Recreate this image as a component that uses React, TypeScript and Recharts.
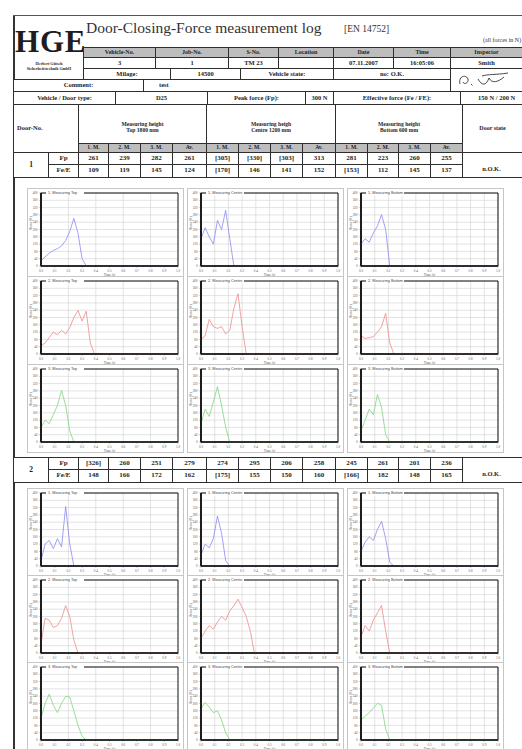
import React from 'react';
import { LineChart, Line, XAxis, YAxis, CartesianGrid, ReferenceArea } from 'recharts';

// ---------- data ----------
const times = [0, 0.03, 0.06, 0.09, 0.12, 0.15, 0.18, 0.21, 0.24, 0.27, 0.3, 0.33, 0.36, 0.39, 0.42, 1.0];
const xTicks = [0, 0.1, 0.2, 0.3, 0.4, 0.5, 0.6, 0.7, 0.8, 0.9, 1.0];
const yTicks = [0, 40, 80, 120, 160, 200, 240, 280, 320, 360, 400];

// door 1
const d1TopM1 = [30, 50, 70, 85, 95, 110, 140, 190, 261, 180, 40, 0, 0, 0, 0, 0];
const d1TopM2 = [45, 60, 90, 120, 105, 130, 110, 145, 200, 239, 180, 235, 60, 0, 0, 0];
const d1TopM3 = [80, 120, 100, 150, 200, 282, 200, 60, 0, 0, 0, 0, 0, 0, 0, 0];
const d1CenM1 = [150, 210, 160, 120, 250, 200, 305, 150, 0, 0, 0, 0, 0, 0, 0, 0];
const d1CenM2 = [80, 100, 190, 150, 140, 150, 110, 130, 250, 330, 150, 0, 0, 0, 0, 0];
const d1CenM3 = [100, 180, 140, 220, 303, 200, 80, 0, 0, 0, 0, 0, 0, 0, 0, 0];
const d1BotM1 = [120, 150, 130, 180, 220, 281, 200, 0, 0, 0, 0, 0, 0, 0, 0, 0];
const d1BotM2 = [100, 85, 90, 95, 120, 150, 223, 60, 0, 0, 0, 0, 0, 0, 0, 0];
const d1BotM3 = [60, 120, 180, 150, 260, 190, 40, 0, 0, 0, 0, 0, 0, 0, 0, 0];
// door 2
const d2TopM1 = [30, 120, 140, 95, 150, 105, 326, 120, 0, 0, 0, 0, 0, 0, 0, 0];
const d2TopM2 = [50, 190, 180, 140, 150, 190, 260, 200, 70, 0, 0, 0, 0, 0, 0, 0];
const d2TopM3 = [120, 200, 251, 190, 150, 200, 240, 235, 160, 80, 20, 0, 0, 0, 0, 0];
const d2CenM1 = [60, 120, 100, 150, 274, 180, 30, 0, 0, 0, 0, 0, 0, 0, 0, 0];
const d2CenM2 = [80, 120, 150, 130, 170, 200, 180, 230, 260, 295, 250, 200, 120, 0, 0, 0];
const d2CenM3 = [170, 206, 180, 150, 160, 110, 40, 0, 0, 0, 0, 0, 0, 0, 0, 0];
const d2BotM1 = [80, 130, 160, 140, 200, 245, 150, 20, 0, 0, 0, 0, 0, 0, 0, 0];
const d2BotM2 = [90, 150, 120, 180, 220, 261, 120, 0, 0, 0, 0, 0, 0, 0, 0, 0];
const d2BotM3 = [110, 130, 150, 175, 201, 190, 60, 0, 0, 0, 0, 0, 0, 0, 0, 0];

const row1Fp = ['261', '239', '282', '261', '[305]', '[330]', '[303]', '313', '281', '223', '260', '255'];
const row1Fe = ['109', '119', '145', '124', '[170]', '146', '141', '152', '[153]', '112', '145', '137'];
const row2Fp = ['[326]', '260', '251', '279', '274', '295', '206', '258', '245', '261', '201', '236'];
const row2Fe = ['148', '166', '172', '162', '[175]', '155', '150', '160', '[166]', '182', '148', '165'];

const subHeads = ['1. M.', '2. M.', '3. M.', 'Av.', '1. M.', '2. M.', '3. M.', 'Av.', '1. M.', '2. M.', '3. M.', 'Av.'];
const positions = ['Top', 'Centre', 'Bottom'];
const seriesColors = ['#8a8af2', '#f08a8a', '#7fd67f'];

// ---------- layout ----------
const valueCols = [78, 108, 140, 172, 206, 238, 270, 302, 335, 367, 398, 430, 462];
const panelCols = [27, 187, 347];
const block1Tops = [188, 276, 364];
const block2Tops = [488, 575, 662];

const BORDER = '1px solid #2e2e2e';

function Cell({ x1, x2, y1, y2, text, bg, size = 6.5, align = 'center', pad = 0, weight = 700, children, valign = 'center' }: any) {
  return (
    <div
      style={{
        position: 'absolute', left: x1, top: y1, width: x2 - x1 + 1, height: y2 - y1 + 1,
        border: BORDER, boxSizing: 'border-box', background: bg || '#fff',
        display: 'flex', alignItems: valign, justifyContent: align === 'left' ? 'flex-start' : 'center',
        paddingLeft: pad, fontSize: size, fontWeight: weight, whiteSpace: 'nowrap', overflow: 'hidden',
        lineHeight: 1.05, textAlign: 'center',
      }}
    >
      {children || text}
    </div>
  );
}

function PlotTitle(props: any) {
  const vb = props.viewBox || { x: 0, y: 0 };
  return (
    <g>
      <rect x={vb.x + 5} y={vb.y - 2.5} width={38} height={5} fill="#fff" />
      <text x={vb.x + 7} y={vb.y + 1.3} fontSize={3.8} fill="#444" fontFamily="Liberation Sans, sans-serif">{props.text}</text>
    </g>
  );
}

function Panel({ left, top, values, color, title, sparse }: any) {
  const data = times.map((t, i) => ({ t, v: values[i] }));
  return (
    <div style={{ position: 'absolute', left, top, width: 157, height: 89, border: '1px solid #c6c6c6', boxSizing: 'border-box', background: '#fff' }}>
      <LineChart width={155} height={87} data={data} margin={{ top: 4, right: 5, bottom: 0, left: 3 }}>
        <CartesianGrid stroke="#d0d0d0" strokeWidth={0.6} verticalValues={sparse ? [0.2, 0.4, 0.6, 0.8] : undefined} />
        <XAxis
          type="number" dataKey="t" domain={[0, 1]} ticks={xTicks} interval={0} height={10}
          tick={{ fontSize: 3.2, fill: '#555' }} tickSize={1.5} tickFormatter={(v: number) => v.toFixed(1)}
          axisLine={{ stroke: '#111', strokeWidth: 1.3 }} tickLine={{ stroke: '#333', strokeWidth: 0.5 }}
          label={{ value: 'Time (s)', position: 'insideBottom', offset: 0, fontSize: 3.4, fill: '#555' }}
        />
        <YAxis
          type="number" domain={[0, 400]} ticks={yTicks} interval={0} width={10}
          tick={{ fontSize: 3.2, fill: '#555' }} tickSize={1.5}
          axisLine={{ stroke: '#111', strokeWidth: 1.8 }} tickLine={{ stroke: '#333', strokeWidth: 0.5 }}
          label={{ value: 'Force (N)', angle: -90, position: 'insideLeft', offset: 0, fontSize: 3.4, fill: '#555' }}
        />
        <Line type="linear" dataKey="v" stroke={color} strokeWidth={0.8} dot={false} isAnimationActive={false} />
        <ReferenceArea x1={0} x2={1} y1={0} y2={400} fill="none" fillOpacity={0} stroke="#111" strokeWidth={1}
          ifOverflow="visible" label={<PlotTitle text={title} />} />
      </LineChart>
    </div>
  );
}

function ChartBlock({ tops, series }: any) {
  return (
    <>
      {tops.map((top: number, r: number) =>
        panelCols.map((left, c) => (
          <Panel key={`${r}-${c}`} left={left} top={top} values={series[r][c]} color={seriesColors[r]}
            title={`${r + 1}. Measuring ${positions[c]}`} sparse={c === 0} />
        ))
      )}
    </>
  );
}

function DoorRow({ y, no, fp, fe }: any) {
  return (
    <>
      <Cell x1={13} x2={48} y1={y} y2={y + 25} text={no} size={7.5} />
      <Cell x1={48} x2={78} y1={y} y2={y + 12} text="Fp" size={7} />
      <Cell x1={48} x2={78} y1={y + 12} y2={y + 25} text="Fe/E" size={7} />
      {fp.map((v: string, i: number) => (
        <Cell key={'p' + i} x1={valueCols[i]} x2={valueCols[i + 1]} y1={y} y2={y + 12} text={v} size={7} />
      ))}
      {fe.map((v: string, i: number) => (
        <Cell key={'e' + i} x1={valueCols[i]} x2={valueCols[i + 1]} y1={y + 12} y2={y + 25} text={v} size={7} />
      ))}
      <Cell x1={462} x2={540} y1={y} y2={y + 25} valign="flex-end">
        <span style={{ paddingBottom: 4, paddingRight: 20 }}>n.O.K.</span>
      </Cell>
    </>
  );
}

export default function App() {
  const series1 = [
    [d1TopM1, d1CenM1, d1BotM1],
    [d1TopM2, d1CenM2, d1BotM2],
    [d1TopM3, d1CenM3, d1BotM3],
  ];
  const series2 = [
    [d2TopM1, d2CenM1, d2BotM1],
    [d2TopM2, d2CenM2, d2BotM2],
    [d2TopM3, d2CenM3, d2BotM3],
  ];
  const gray = '#bdbdbd';
  return (
    <div style={{ position: 'absolute', left: 0, top: 0, width: 522, height: 749, overflow: 'hidden', background: '#fff', fontFamily: '"Liberation Serif", "DejaVu Serif", serif', color: '#1e1e1e' }}>
      {/* page frame */}
      <div style={{ position: 'absolute', left: 13, top: 15, width: 1.5, height: 740, background: '#333' }} />
      <div style={{ position: 'absolute', left: 13, top: 15, width: 520, height: 1.2, background: '#555' }} />

      {/* title */}
      <div style={{ position: 'absolute', left: 86, top: 19, fontSize: 15.5, whiteSpace: 'nowrap', color: '#333' }}>Door-Closing-Force measurement log</div>
      <div style={{ position: 'absolute', left: 344, top: 24, fontSize: 9.5, whiteSpace: 'nowrap', color: '#333' }}>[EN 14752]</div>
      <div style={{ position: 'absolute', left: 483, top: 37, fontSize: 6, whiteSpace: 'nowrap', color: '#333' }}>(all forces in N)</div>

      {/* logo */}
      <div style={{ position: 'absolute', left: 15, top: 27, fontSize: 31, fontWeight: 700, lineHeight: '30px', height: 30, letterSpacing: 0.8 }}>HGE</div>
      <div style={{ position: 'absolute', left: 15, top: 61, width: 68, textAlign: 'center', fontSize: 4, fontWeight: 700, lineHeight: '5.4px', whiteSpace: 'nowrap' }}>
        <div>Herbert Gütsch</div>
        <div>Sicherheitstechnik GmbH</div>
      </div>

      {/* header info */}
      <Cell x1={83} x2={155} y1={47} y2={57} text="Vehicle-No." bg={gray} size={6} />
      <Cell x1={155} x2={228} y1={47} y2={57} text="Job-No." bg={gray} size={6} />
      <Cell x1={228} x2={278} y1={47} y2={57} text="S-No." bg={gray} size={6} />
      <Cell x1={278} x2={333} y1={47} y2={57} text="Location" bg={gray} size={6} />
      <Cell x1={333} x2={393} y1={47} y2={57} text="Date" bg={gray} size={6} />
      <Cell x1={393} x2={450} y1={47} y2={57} text="Time" bg={gray} size={6} />
      <Cell x1={450} x2={540} y1={47} y2={57} text="Inspector" bg={gray} size={6}>
        <span style={{ paddingRight: 18 }}>Inspector</span>
      </Cell>

      <Cell x1={83} x2={155} y1={57} y2={68} text="3" size={6.5} />
      <Cell x1={155} x2={228} y1={57} y2={68} text="1" size={6.5} />
      <Cell x1={228} x2={278} y1={57} y2={68} text="TM 23" size={6.5} />
      <Cell x1={278} x2={333} y1={57} y2={68} text="" />
      <Cell x1={333} x2={393} y1={57} y2={68} text="07.11.2007" size={6.5} />
      <Cell x1={393} x2={450} y1={57} y2={68} text="16:05:06" size={6.5} />
      <Cell x1={450} x2={540} y1={57} y2={68}>
        <span style={{ paddingRight: 18 }}>Smith</span>
      </Cell>

      <Cell x1={83} x2={170} y1={68} y2={79} text="Milage:" size={6.5} />
      <Cell x1={170} x2={240} y1={68} y2={79} text="14500" size={6.5} />
      <Cell x1={240} x2={333} y1={68} y2={79} text="Vehicle state:" size={6.5} />
      <Cell x1={333} x2={450} y1={68} y2={79} text="no: O.K." size={6.5} />
      <Cell x1={450} x2={540} y1={68} y2={91}>
        <svg width={70} height={20} style={{ marginRight: 18 }}>
          <path d="M8 14 C 6 6, 14 4, 16 9 C 17 13, 12 15, 11 12 M 19 14 l 1.5 1.5 M 26 9 C 30 16, 34 16, 37 8 C 40 14, 46 12, 52 7 M 30 6 C 36 4, 44 5, 56 3"
            stroke="#333" strokeWidth={0.9} fill="none" />
        </svg>
      </Cell>

      <Cell x1={13} x2={143} y1={79} y2={91} text="Comment:" size={6.5} />
      <Cell x1={143} x2={450} y1={79} y2={91} text="test" size={6.5} align="left" pad={15} />

      <Cell x1={13} x2={115} y1={91} y2={104} text="Vehicle / Door type:" size={6.5} />
      <Cell x1={115} x2={207} y1={91} y2={104} text="D25" size={6.5} />
      <Cell x1={207} x2={305} y1={91} y2={104} text="Peak force (Fp):" size={6.5} />
      <Cell x1={305} x2={333} y1={91} y2={104} text="300 N" size={6.5} />
      <Cell x1={333} x2={460} y1={91} y2={104} text="Effective force (Fe / FE):" size={6.5} />
      <Cell x1={460} x2={540} y1={91} y2={104} text="150 N / 200 N" size={6.5} align="left" pad={17} />

      {/* measurement header */}
      <Cell x1={13} x2={78} y1={104} y2={152} text="Door-No." size={6.5} align="left" pad={3} />
      <Cell x1={78} x2={206} y1={104} y2={143} size={5.6}>
        <span style={{ paddingTop: 8 }}>Measuring height<br />Top 1800 mm</span>
      </Cell>
      <Cell x1={206} x2={335} y1={104} y2={143} size={5.6}>
        <span style={{ paddingTop: 8 }}>Measuring heigh<br />Centre 1200 mm</span>
      </Cell>
      <Cell x1={335} x2={462} y1={104} y2={143} size={5.6}>
        <span style={{ paddingTop: 8 }}>Measuring height<br />Bottom 600 mm</span>
      </Cell>
      <Cell x1={462} x2={540} y1={104} y2={152} size={6}>
        <span style={{ paddingRight: 18 }}>Door state</span>
      </Cell>
      {subHeads.map((h, i) => (
        <Cell key={'h' + i} x1={valueCols[i]} x2={valueCols[i + 1]} y1={143} y2={152} text={h} bg={gray} size={5.6} />
      ))}

      <DoorRow y={152} no="1" fp={row1Fp} fe={row1Fe} />
      <ChartBlock tops={block1Tops} series={series1} />

      <DoorRow y={457} no="2" fp={row2Fp} fe={row2Fe} />
      <ChartBlock tops={block2Tops} series={series2} />
    </div>
  );
}
